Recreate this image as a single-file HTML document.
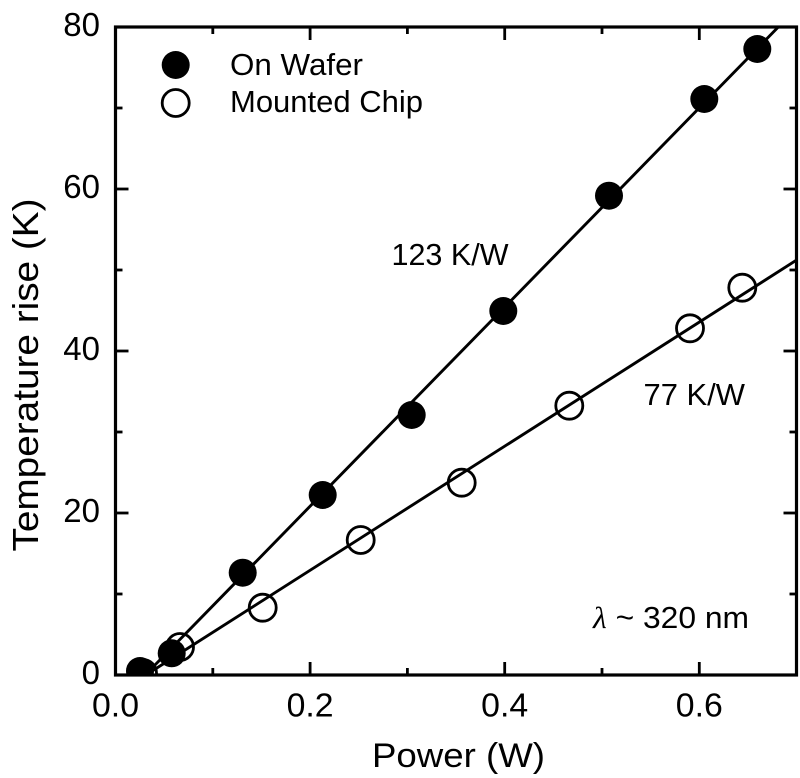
<!DOCTYPE html>
<html>
<head>
<meta charset="utf-8">
<style>
  html, body { margin:0; padding:0; background:#fff; }
  svg { display:block; }
  text { font-family: "Liberation Sans", Arial, sans-serif; fill:#000; }
</style>
</head>
<body>
<svg width="800" height="778" viewBox="0 0 800 778" xmlns="http://www.w3.org/2000/svg">
  <defs>
    <clipPath id="plot">
      <rect x="115.5" y="27" width="680.5" height="648"/>
    </clipPath>
  </defs>

  <!-- data lines -->
  <g clip-path="url(#plot)" stroke="#000" stroke-width="2.9" fill="none">
    <line x1="145.2" y1="675" x2="778.3" y2="27"/>
    <line x1="145.9" y1="675" x2="796.7" y2="260"/>
  </g>

  <!-- markers -->
  <g clip-path="url(#plot)">
    <g fill="#000">
      <circle cx="140" cy="671" r="14"/>
      <circle cx="171.7" cy="653.3" r="14"/>
      <circle cx="242.7" cy="572.7" r="14"/>
      <circle cx="322.7" cy="495" r="14"/>
      <circle cx="411.7" cy="415" r="14"/>
      <circle cx="503.3" cy="311" r="14"/>
      <circle cx="609" cy="195.7" r="14"/>
      <circle cx="704.3" cy="99" r="14"/>
      <circle cx="757.3" cy="49" r="14"/>
    </g>
    <g fill="none" stroke="#000" stroke-width="2.8">
      <circle cx="143" cy="673" r="13.5"/>
      <circle cx="180" cy="647" r="13.5"/>
      <circle cx="262.7" cy="607.7" r="13.5"/>
      <circle cx="360.7" cy="540" r="13.5"/>
      <circle cx="461.7" cy="482.7" r="13.5"/>
      <circle cx="569.3" cy="405.7" r="13.5"/>
      <circle cx="690" cy="328.3" r="13.5"/>
      <circle cx="742.3" cy="287.7" r="13.5"/>
    </g>
  </g>

  <!-- axes box -->
  <rect x="115.5" y="27" width="681" height="648" fill="none" stroke="#000" stroke-width="3.2"/>

  <!-- ticks -->
  <g stroke="#000" stroke-width="2.8">
    <line x1="310.1" y1="675" x2="310.1" y2="662"/>
    <line x1="504.7" y1="675" x2="504.7" y2="662"/>
    <line x1="699.3" y1="675" x2="699.3" y2="662"/>
    <line x1="212.8" y1="675" x2="212.8" y2="668"/>
    <line x1="407.4" y1="675" x2="407.4" y2="668"/>
    <line x1="602" y1="675" x2="602" y2="668"/>
    <line x1="310.1" y1="27" x2="310.1" y2="40"/>
    <line x1="504.7" y1="27" x2="504.7" y2="40"/>
    <line x1="699.3" y1="27" x2="699.3" y2="40"/>
    <line x1="212.8" y1="27" x2="212.8" y2="34"/>
    <line x1="407.4" y1="27" x2="407.4" y2="34"/>
    <line x1="602" y1="27" x2="602" y2="34"/>
    <line x1="115.5" y1="513" x2="128.5" y2="513"/>
    <line x1="115.5" y1="351" x2="128.5" y2="351"/>
    <line x1="115.5" y1="189" x2="128.5" y2="189"/>
    <line x1="115.5" y1="594" x2="122.5" y2="594"/>
    <line x1="115.5" y1="432" x2="122.5" y2="432"/>
    <line x1="115.5" y1="270" x2="122.5" y2="270"/>
    <line x1="115.5" y1="108" x2="122.5" y2="108"/>
    <line x1="796.5" y1="513" x2="783.5" y2="513"/>
    <line x1="796.5" y1="351" x2="783.5" y2="351"/>
    <line x1="796.5" y1="189" x2="783.5" y2="189"/>
    <line x1="796.5" y1="594" x2="789.5" y2="594"/>
    <line x1="796.5" y1="432" x2="789.5" y2="432"/>
    <line x1="796.5" y1="270" x2="789.5" y2="270"/>
    <line x1="796.5" y1="108" x2="789.5" y2="108"/>
  </g>

  <!-- x tick labels -->
  <g font-size="33" text-anchor="middle">
    <text x="115.5" y="716.5" textLength="47" lengthAdjust="spacingAndGlyphs">0.0</text>
    <text x="310.1" y="716.5" textLength="47" lengthAdjust="spacingAndGlyphs">0.2</text>
    <text x="504.7" y="716.5" textLength="47" lengthAdjust="spacingAndGlyphs">0.4</text>
    <text x="699.3" y="716.5" textLength="47" lengthAdjust="spacingAndGlyphs">0.6</text>
  </g>

  <!-- y tick labels -->
  <g font-size="33" text-anchor="end">
    <text x="100" y="684">0</text>
    <text x="100" y="522">20</text>
    <text x="100" y="360">40</text>
    <text x="100" y="198">60</text>
    <text x="100" y="36">80</text>
  </g>

  <!-- axis titles -->
  <text x="458.5" y="767" font-size="34" text-anchor="middle" textLength="173" lengthAdjust="spacingAndGlyphs">Power (W)</text>
  <text transform="translate(38,375) rotate(-90)" x="0" y="0" font-size="36" text-anchor="middle" textLength="353" lengthAdjust="spacingAndGlyphs">Temperature rise (K)</text>

  <!-- legend -->
  <circle cx="175.7" cy="65" r="14" fill="#000"/>
  <circle cx="175.7" cy="103" r="13.5" fill="none" stroke="#000" stroke-width="2.8"/>
  <text x="230" y="75" font-size="30.5" textLength="133" lengthAdjust="spacingAndGlyphs">On Wafer</text>
  <text x="230" y="112" font-size="30.5" textLength="193" lengthAdjust="spacingAndGlyphs">Mounted Chip</text>

  <!-- annotations -->
  <text x="391.5" y="265" font-size="30.5" textLength="117" lengthAdjust="spacingAndGlyphs">123 K/W</text>
  <text x="643.5" y="405" font-size="30.5" textLength="101.5" lengthAdjust="spacingAndGlyphs">77 K/W</text>
  <text x="593" y="628" font-size="31" textLength="156" lengthAdjust="spacingAndGlyphs"><tspan font-family="'Liberation Serif', serif" font-style="italic">λ</tspan> ~ 320 nm</text>
</svg>
</body>
</html>
